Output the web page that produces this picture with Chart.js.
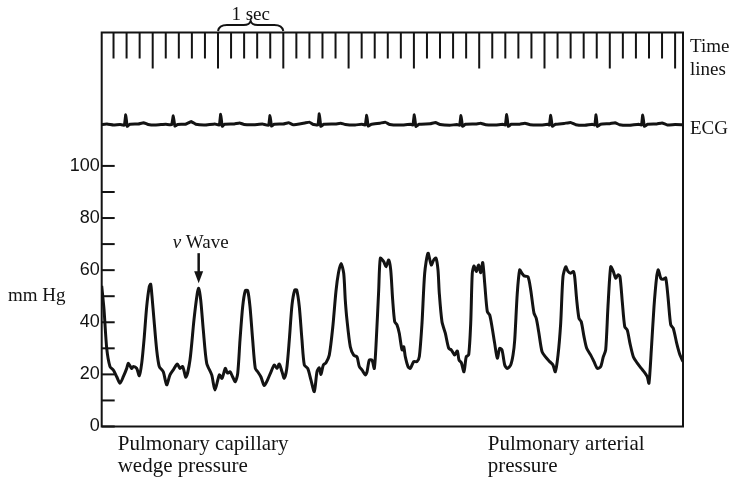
<!DOCTYPE html>
<html><head><meta charset="utf-8">
<script src="https://cdn.jsdelivr.net/npm/chart.js@4/dist/chart.umd.min.js"></script>
<style>html,body{margin:0;padding:0;background:#fff;} canvas{display:block;}</style>
</head><body>
<canvas id="c" width="734" height="477"></canvas>
<script>
// ---- data (time in seconds, pressure in mm Hg) ----
const pressureT = [0.219,0.254,0.296,0.346,0.397,0.449,0.499,0.550,0.602,0.626,0.678,0.703,0.755,0.795,0.832,0.867,0.908,0.948,0.969,0.989,
1.020,1.061,1.101,1.162,1.214,1.265,1.315,1.377,1.418,1.459,1.510,1.571,1.632,1.683,1.704,1.735,1.775,1.827,1.904,1.954,
2.020,2.061,2.112,2.145,2.184,2.225,2.265,2.302,2.337,2.378,2.418,2.455,2.490,2.531,2.571,2.608,2.658,2.709,2.761,2.812,
2.862,2.904,2.939,2.980,3.015,3.052,3.092,3.133,3.175,3.205,3.245,3.286,3.322,3.374,3.424,3.475,3.516,3.551,3.577,3.613,
3.654,3.704,3.757,3.807,3.845,3.884,3.925,3.949,3.975,4.026,4.078,4.129,4.164,4.205,4.256,4.282,4.317,4.358,4.394,4.424,
4.461,4.486,4.538,4.573,4.614,4.645,4.675,4.706,4.741,4.776,4.818,4.844,4.868,4.910,4.945,4.997,5.047,5.083,5.124,5.165,
5.216,5.266,5.303,5.338,5.369,5.389,5.430,5.481,5.533,5.573,5.625,5.665,5.691,5.726,5.767,5.802,5.839,5.870,5.894,5.920,
5.956,5.992,6.023,6.054,6.084,6.124,6.161,6.196,6.237,6.277,6.314,6.349,6.391,6.430,6.482,6.518,6.544,6.583,6.620,6.655,
6.686,6.747,6.789,6.839,6.874,6.911,6.962,7.012,7.080,7.130,7.165,7.207,7.248,7.283,7.325,7.360,7.401,7.441,7.462,7.493,
7.528,7.563,7.605,7.646,7.708,7.758,7.809,7.861,7.900,7.937,7.972,8.014,8.054,8.090,8.126,8.156,8.191,8.229,8.268,8.309,
8.360,8.421,8.482,8.534,8.574,8.600,8.636,8.677,8.718,8.743,8.780,8.819,8.856,8.891,8.933,8.972,9.025,9.075,9.121];
const pressureV = [54,45,30,23,21.7,19.1,16.6,19.1,22.3,24.3,22.3,23,22.3,19.5,24.3,33.2,46,53.7,54.6,50,
40.9,29.4,23,21,16,19.8,21.7,24,22.3,23,18.9,25.5,40.9,51.1,53,48.6,37,24.3,19.8,14,
19.8,18.5,22.3,20.5,21,19,17.2,20.4,33.2,46,52.1,52.1,46,33.2,22.3,21,19,15.7,18,21,
23.6,22.3,24,21,18.5,22,33.2,46.6,52.4,52.4,46,33.2,23.6,22.3,17.8,13.4,21,22.5,20,23.6,
24.5,27.4,38,52,59,62.6,58.8,48.6,40.9,30.6,27.4,26.7,23,21.7,19.8,21,25.5,25.5,22.3,33.2,
52.4,64.6,63.3,61.3,63.9,60.1,48.6,40.2,39,35.8,29.4,30.6,26.8,23,22.3,24.9,24.9,26.8,39.6,58.8,
66.5,62,63.9,64.6,60.1,51.1,40.2,35.8,30,29.4,27.4,29,25.5,24.5,21,26.8,27.5,39.6,58.8,61.6,
59.5,62,59,62.9,55,44.1,42.8,38.3,31.9,26.2,30,29.4,23.6,22.3,23.6,27.4,33.2,51.1,60.1,58.8,
57.8,57.5,52.4,43.5,41.5,36.4,28.7,26.8,24.9,23.6,21,27.4,39.6,57.5,61.3,59.5,58.8,59.5,57.5,48.6,
41.5,40.2,34.5,30,27.4,24.9,22.3,23,26.7,29.4,46,61.3,59.5,56.9,58.2,57.5,47.9,38.3,37,31.9,
26.8,24.3,22.3,20.7,19.1,16.6,29.4,46,57.5,60.1,56.9,56.5,57,49.8,39,37.7,31.9,27.4,24.9];

const ecgT = [0.219,0.30,0.40,0.50,0.565,0.587,0.61,0.65,0.78,0.86,0.93,1.05,1.20,1.29,1.315,1.34,1.38,1.50,1.59,1.66,
1.80,1.95,2.02,2.041,2.065,2.10,2.25,2.33,2.40,2.55,2.68,2.775,2.796,2.82,2.86,3.00,3.08,3.15,3.33,3.40,
3.45,3.53,3.551,3.575,3.62,3.80,3.88,3.95,4.10,4.20,4.255,4.277,4.30,4.35,4.48,4.56,4.63,4.80,4.95,4.985,
5.006,5.03,5.08,5.25,5.33,5.40,5.55,5.66,5.70,5.721,5.745,5.79,5.95,6.02,6.10,6.25,6.36,6.40,6.421,6.445,
6.49,6.62,6.70,6.78,6.95,7.05,7.075,7.095,7.12,7.17,7.30,7.40,7.48,7.62,7.73,7.77,7.789,7.81,7.86,8.00,
8.08,8.15,8.30,8.44,8.485,8.504,8.53,8.58,8.72,8.80,8.88,9.00,9.121];
const ecgV = [115.9,116.1,115.7,115.9,115.6,119.6,115.2,116.0,116.1,116.6,115.9,115.7,116.0,115.8,119.2,115.3,115.9,116.0,117.0,116.0,
115.7,116.1,115.7,119.8,115.2,116.0,116.1,116.5,115.9,115.8,116.1,115.6,119.3,115.3,116.0,116.1,116.6,115.8,116.5,116.8,
116.0,115.7,120.0,115.2,116.0,116.1,116.4,115.9,115.7,116.0,115.7,119.4,115.3,116.0,116.4,116.8,115.9,115.7,116.0,115.7,
119.6,115.2,116.0,116.2,116.7,115.9,115.6,115.9,115.6,119.3,115.2,116.0,116.1,116.4,115.8,115.7,116.0,115.7,119.7,115.2,
116.0,116.0,116.4,115.8,115.7,116.0,115.7,119.4,115.2,116.0,116.3,116.7,115.8,115.6,116.0,115.7,119.6,115.2,116.0,116.2,
116.6,115.8,115.6,116.0,115.7,119.5,115.2,116.0,116.1,116.5,115.7,115.9,115.8];

const timeLines = [0.4,0.6,0.8,1.0,1.2,1.4,1.6,1.8,2.0,2.2,2.4,2.6,2.8,3.0,3.2,3.4,3.6,3.8,4.0,4.2,4.4,4.6,4.8,
5.0,5.2,5.4,5.6,5.8,6.0,6.2,6.4,6.6,6.8,7.0,7.2,7.4,7.6,7.8,8.0,8.2,8.4,8.6,8.8,9.0];
const yTickValues = [0,10,20,30,40,50,60,70,80,90,100];
const yTickLabels = ['0','','20','','40','','60','','80','','100'];
const xRange = [0.219, 9.121];
const yRange = [0, 151.2];
const vWavePeak = {t: 1.704, v: 55};
const ecgLevel = 115.9;

const INK = '#131313';
const SERIF = '"Liberation Serif", "Times New Roman", serif';

const decor = {
  id: 'decor',
  afterDraw(chart) {
    const {ctx, chartArea: a, scales: {x, y}} = chart;
    ctx.save();
    ctx.strokeStyle = INK; ctx.fillStyle = INK;
    ctx.lineCap = 'butt';
    // frame
    ctx.lineWidth = 2;
    ctx.strokeRect(a.left, a.top, a.right - a.left, a.bottom - a.top);
    // time lines hanging from top
    timeLines.forEach(t => {
      const px = x.getPixelForValue(t);
      const isLong = Math.abs(t - Math.round(t)) < 1e-6;
      ctx.beginPath(); ctx.moveTo(px, a.top); ctx.lineTo(px, a.top + (isLong ? 36 : 26)); ctx.stroke();
    });
    // inner y ticks
    yTickValues.forEach(v => {
      const py = y.getPixelForValue(v);
      ctx.beginPath(); ctx.moveTo(a.left, py); ctx.lineTo(a.left + 13, py); ctx.stroke();
    });
    // brace for 1 sec
    const b1 = x.getPixelForValue(2), b2 = x.getPixelForValue(3), bm = (b1 + b2) / 2;
    ctx.lineWidth = 2;
    ctx.beginPath();
    ctx.moveTo(b1, 31);
    ctx.quadraticCurveTo(b1 + 1, 25, b1 + 9, 25);
    ctx.lineTo(bm - 7, 25);
    ctx.quadraticCurveTo(bm - 1, 25, bm, 21);
    ctx.quadraticCurveTo(bm + 1, 25, bm + 7, 25);
    ctx.lineTo(b2 - 9, 25);
    ctx.quadraticCurveTo(b2 - 1, 25, b2, 31);
    ctx.stroke();
    // texts
    ctx.font = '19px ' + SERIF;
    ctx.textBaseline = 'middle';
    ctx.textAlign = 'center';
    ctx.fillText('1 sec', bm, 15);
    ctx.textAlign = 'left';
    ctx.fillText('Time', a.right + 7, 47);
    ctx.fillText('lines', a.right + 7, 70);
    ctx.fillText('ECG', a.right + 7, y.getPixelForValue(ecgLevel) + 5);
    ctx.fillText('mm Hg', 8, y.getPixelForValue(50));
    // v Wave label + arrow
    const ax = x.getPixelForValue(vWavePeak.t);
    const tip = y.getPixelForValue(vWavePeak.v);
    ctx.font = 'italic 19px ' + SERIF;
    const wv = ctx.measureText('v ').width;
    ctx.font = '19px ' + SERIF;
    const ww = ctx.measureText('Wave').width;
    const start = ax + 2 - (wv + ww) / 2;
    ctx.font = 'italic 19px ' + SERIF;
    ctx.fillText('v', start, tip - 40);
    ctx.font = '19px ' + SERIF;
    ctx.fillText('Wave', start + wv, tip - 40);
    ctx.lineWidth = 2.5;
    ctx.beginPath(); ctx.moveTo(ax, tip - 30); ctx.lineTo(ax, tip - 9); ctx.stroke();
    ctx.beginPath(); ctx.moveTo(ax - 4.5, tip - 12); ctx.lineTo(ax + 4.5, tip - 12); ctx.lineTo(ax, tip); ctx.closePath(); ctx.fill();
    // bottom captions
    ctx.font = '21px ' + SERIF;
    ctx.fillText('Pulmonary capillary', a.left + 16, 444);
    ctx.fillText('wedge pressure', a.left + 16, 466);
    ctx.fillText('Pulmonary arterial', a.left + 386, 444);
    ctx.fillText('pressure', a.left + 386, 466);
    ctx.restore();
  }
};

new Chart(document.getElementById('c'), {
  type: 'line',
  data: {
    datasets: [
      { label: 'Pressure', data: pressureT.map((t, i) => ({x: t, y: pressureV[i]})),
        borderColor: INK, borderWidth: 3, pointRadius: 0, tension: 0.25, fill: false },
      { label: 'ECG', data: ecgT.map((t, i) => ({x: t, y: ecgV[i]})),
        borderColor: INK, borderWidth: 3, pointRadius: 0, tension: 0.1, fill: false }
    ]
  },
  options: {
    responsive: false, animation: false, devicePixelRatio: 1,
    layout: { padding: { left: 0, right: 51, top: 32.5, bottom: 50.5 } },
    plugins: { legend: { display: false }, tooltip: { enabled: false } },
    scales: {
      x: { type: 'linear', min: xRange[0], max: xRange[1],
           ticks: { display: false }, grid: { display: false, drawTicks: false }, border: { display: false },
           afterFit: s => { s.height = 0; } },
      y: { min: yRange[0], max: yRange[1],
           afterBuildTicks: s => { s.ticks = yTickValues.map(v => ({value: v})); },
           ticks: { autoSkip: false, padding: 2, color: INK, font: { family: 'Liberation Sans', size: 18 },
                    callback: (v, i) => yTickLabels[yTickValues.indexOf(v)] ?? '' },
           grid: { display: false, drawTicks: false }, border: { display: false },
           afterFit: s => { s.width = 101.7; } }
    }
  },
  plugins: [decor]
});
</script>
</body></html>
